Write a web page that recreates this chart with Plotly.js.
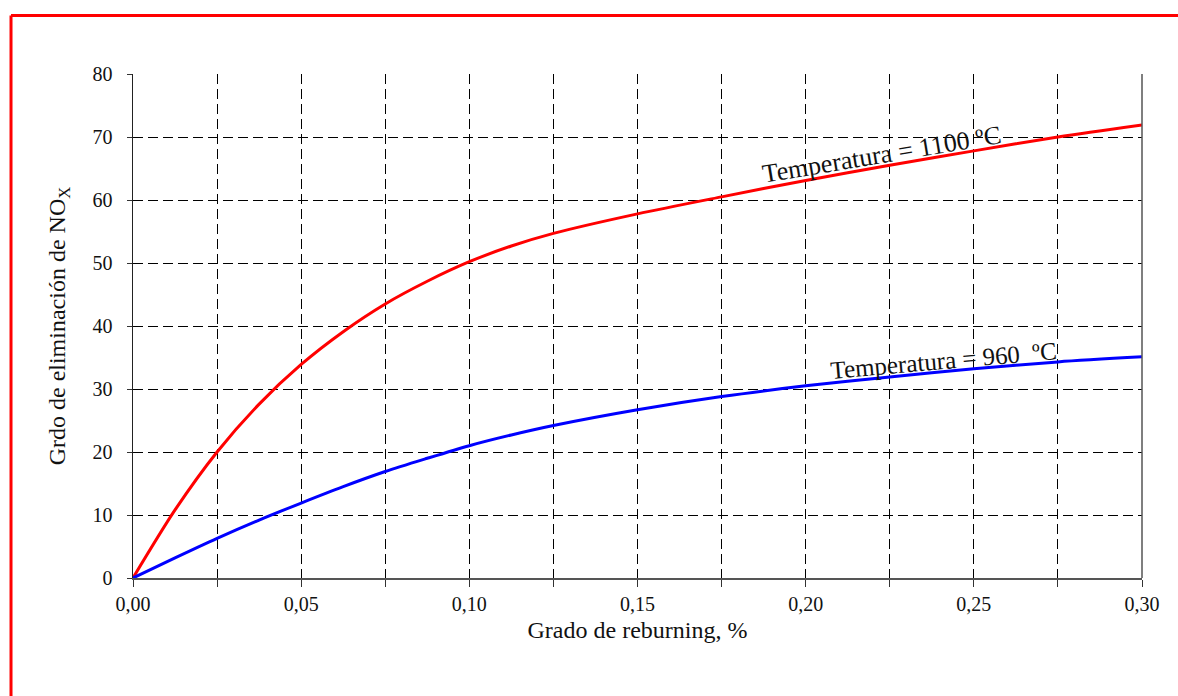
<!DOCTYPE html>
<html>
<head>
<meta charset="utf-8">
<script src="https://cdn.plot.ly/plotly-3.0.1.min.js"></script>
<style>html,body{margin:0;padding:0;background:#fff;}#chart{width:1178px;height:696px;}</style>
</head>
<body>
<div id="chart"></div>
<script>
const reburning = [0, 0.0125, 0.025, 0.0375, 0.05, 0.0625, 0.075, 0.0875, 0.10, 0.1125, 0.125, 0.15, 0.175, 0.20, 0.225, 0.25, 0.275, 0.30];
const nox1100 = [0, 10.8, 20.0, 27.6, 33.9, 39.1, 43.5, 47.1, 50.2, 52.7, 54.7, 57.8, 60.5, 63.1, 65.5, 67.8, 70.0, 71.9];
const nox960  = [0, 3.2, 6.3, 9.2, 11.9, 14.5, 16.9, 19.0, 21.0, 22.7, 24.2, 26.7, 28.8, 30.5, 31.9, 33.2, 34.3, 35.1];
const xTickVals = [0, 0.025, 0.05, 0.075, 0.10, 0.125, 0.15, 0.175, 0.20, 0.225, 0.25, 0.275, 0.30];
const xTickText = ['0,00', ' ', '0,05', ' ', '0,10', ' ', '0,15', ' ', '0,20', ' ', '0,25', ' ', '0,30'];
const yTickVals = [0, 10, 20, 30, 40, 50, 60, 70, 80];
const label1100 = 'Temperatura = 1100 ºC';
const label960 = 'Temperatura = 960  ºC';

const font = 'Liberation Serif';
const traces = [
  {x: reburning, y: nox1100, mode: 'lines', line: {color: '#ff0000', width: 3, shape: 'spline', smoothing: 0.8}, cliponaxis: false, showlegend: false},
  {x: reburning, y: nox960, mode: 'lines', line: {color: '#0000ff', width: 3, shape: 'spline', smoothing: 0.8}, cliponaxis: false, showlegend: false}
];
const grid = {gridcolor: '#000000', gridwidth: 1, griddash: '10px,5px'};
const layout = {
  width: 1178, height: 696,
  margin: {l: 133, r: 36, t: 74, b: 118},
  paper_bgcolor: '#ffffff', plot_bgcolor: '#ffffff',
  font: {family: font, size: 20, color: '#111'},
  xaxis: Object.assign({
    range: [0, 0.30], tickmode: 'array', tickvals: xTickVals, ticktext: xTickText,
    showline: true, linecolor: '#555', linewidth: 1.5,
    ticks: 'outside', ticklen: 7, tickcolor: '#333', zeroline: false,
    tickfont: {family: font, size: 20, color: '#111'},
    title: {text: 'Grado de reburning, %', font: {family: font, size: 24, color: '#111'}, standoff: 7}
  }, grid),
  yaxis: Object.assign({
    range: [0, 80], tickmode: 'array', tickvals: yTickVals,
    showline: true, linecolor: '#222', linewidth: 1.5,
    ticks: 'outside', ticklen: 5, tickcolor: '#333', zeroline: false,
    ticklabelstandoff: 10,
    tickfont: {family: font, size: 20, color: '#111'},
    title: {text: 'Grdo de eliminación de NO<sub>X</sub>', font: {family: font, size: 24, color: '#111'}, standoff: 20}
  }, grid),
  shapes: [
    {type: 'line', xref: 'paper', yref: 'paper', x0: 1, x1: 1, y0: 0, y1: 1, line: {color: '#555', width: 1.5}},
    {type: 'line', xref: 'paper', yref: 'paper', x0: -0.1209, x1: 1.04, y0: 1.1161, y1: 1.1161, line: {color: '#ff0000', width: 3}},
    {type: 'line', xref: 'paper', yref: 'paper', x0: -0.1209, x1: -0.1209, y0: 1.1161, y1: -0.24, line: {color: '#ff0000', width: 3}}
  ],
  annotations: [
    {x: 0.2227, y: 67.2, xref: 'x', yref: 'y', text: label1100, showarrow: false, textangle: -9.5,
     font: {family: font, size: 26, color: '#111'}},
    {x: 0.2411, y: 34.6, xref: 'x', yref: 'y', text: label960, showarrow: false, textangle: -5,
     font: {family: font, size: 25, color: '#111'}}
  ]
};
Plotly.newPlot('chart', traces, layout, {displayModeBar: false, staticPlot: true});
</script>
</body>
</html>
